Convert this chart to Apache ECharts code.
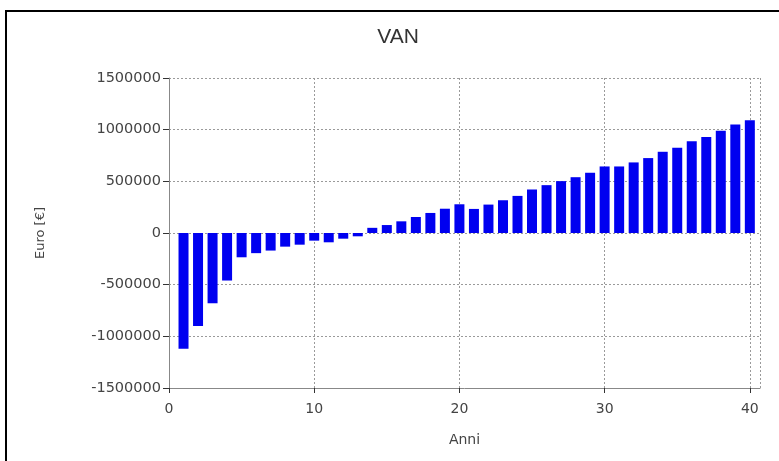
<!DOCTYPE html>
<html>
<head>
<meta charset="utf-8">
<script src="https://cdn.jsdelivr.net/npm/echarts@6/dist/echarts.min.js"></script>
<style>
  html, body { margin: 0; padding: 0; background: #fff; }
  #chart { width: 779px; height: 461px; }
</style>
</head>
<body>
<div id="chart"></div>
<script>
var chart = echarts.init(document.getElementById('chart'));

// anni 1..40 e VAN in euro
var anni = [];
for (var i = 1; i <= 40; i++) anni.push(i);
var van = [
    -1120000, -900000, -680000, -460000, -235000, -195000, -170000, -132000, -113000, -74000,
    -90000, -55000, -32000, 50000, 77000, 113000, 155000, 194000, 235000, 278000,
    233000, 275000, 317000, 359000, 421000, 463000, 502000, 540000, 583000, 644000,
    644000, 683000, 725000, 786000, 825000, 887000, 929000, 990000, 1049000, 1091000
];
var yTicks = [-1500000, -1000000, -500000, 0, 500000, 1000000, 1500000];

var font = 'DejaVu Sans, sans-serif';
var gridLine = { show: true, lineStyle: { color: '#9a9a9a', type: [2, 2], width: 1 } };

var option = {
    animation: false,
    backgroundColor: '#fff',
    title: {
        text: 'VAN',
        left: 393,
        top: 22,
        textAlign: 'center',
        textStyle: { fontFamily: 'Liberation Sans, Arial, sans-serif', fontSize: 21, fontWeight: 'normal', color: '#333' }
    },
    graphic: [{
        type: 'rect',
        shape: { x: 6, y: 11, width: 790, height: 470 },
        style: { fill: 'none', stroke: '#000', lineWidth: 2 }
    }],
    grid: { left: 169, right: 19, top: 78, bottom: 73 },
    xAxis: {
        type: 'value',
        min: 0,
        max: 40.7,
        interval: 10,
        name: 'Anni',
        nameLocation: 'middle',
        nameGap: 45,
        nameTextStyle: { fontFamily: font, fontSize: 14, color: '#444' },
        axisLine: { onZero: false, lineStyle: { color: '#888' } },
        axisTick: { show: true, length: 5, lineStyle: { color: '#333' } },
        axisLabel: { showMaxLabel: false, fontFamily: font, fontSize: 14, color: '#444', margin: 14 },
        splitLine: gridLine
    },
    yAxis: {
        type: 'value',
        min: yTicks[0],
        max: yTicks[yTicks.length - 1],
        interval: 500000,
        name: 'Euro [€]',
        nameLocation: 'middle',
        nameGap: 122,
        nameRotate: 90,
        nameTextStyle: { fontFamily: font, fontSize: 13, color: '#444' },
        axisLine: { show: true, lineStyle: { color: '#888' } },
        axisTick: { show: true, length: 6, lineStyle: { color: '#333' } },
        axisLabel: {
            fontFamily: font, fontSize: 14.5, color: '#444', margin: 8,
            formatter: function (v) { return String(v); }
        },
        splitLine: gridLine
    },
    series: [{
        type: 'bar',
        barWidth: 10,
        itemStyle: { color: '#0000f0' },
        data: anni.map(function (a, i) { return [a, van[i]]; })
    }]
};

chart.setOption(option);
</script>
</body>
</html>
